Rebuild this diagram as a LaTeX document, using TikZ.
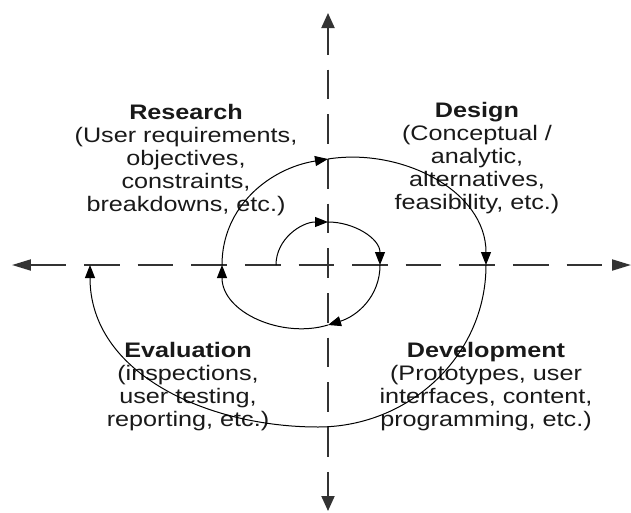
\documentclass[tikz,border=0pt]{standalone}
\usepackage{fontspec}
\setmainfont{Liberation Sans}[FakeStretch=1.2]
\usetikzlibrary{arrows.meta}

\begin{document}
\begin{tikzpicture}[x=1pt,y=1pt,>={Triangle[length=13pt,width=10pt]},
  axis/.style={draw=black!80,line width=2pt},
  loop/.style={->,line width=1pt},
  phase/.style={align=center,text=black!90,inner sep=0pt,anchor=north,
    font=\fontsize{21}{23}\selectfont}]

  \useasboundingbox (-328,-247) rectangle (303,265);

  \coordinate (west) at (-316,0);
  \coordinate (east) at (303,0);
  \coordinate (north) at (0,252);
  \coordinate (south) at (0,-246);

  % axes
  \draw[axis,dash pattern=on 35.6pt off 18pt,
    {Triangle[length=19pt,width=11pt]}-{Triangle[length=19pt,width=11pt]}] (west) -- (east);
  \draw[axis,dash pattern=on 29.7pt off 15pt,dash phase=2.7pt,
    {Triangle[length=15pt,width=13pt]}-{Triangle[length=15pt,width=13pt]}] (north) -- (south);

  % phases
  \node[phase] (research) at (-142,161) {\textbf{Research}\\(User requirements,\\objectives,\\constraints,\\breakdowns, etc.)};
  \node[phase] (design) at (149,163) {\textbf{Design}\\(Conceptual /\\analytic,\\alternatives,\\feasibility, etc.)};
  \node[phase] (evaluation) at (-140,-77) {\textbf{Evaluation}\\(inspections,\\user testing,\\reporting, etc.)};
  \node[phase] (development) at (158,-77) {\textbf{Development}\\(Prototypes, user\\interfaces, content,\\programming, etc.)};

  % spiral
  \coordinate (p0) at (-52,0);
  \coordinate (p1) at (0,43);
  \coordinate (p2) at (52,0);
  \coordinate (p3) at (0,-60);
  \coordinate (p4) at (-106,0);
  \coordinate (p5) at (0,106);
  \coordinate (p6) at (158,0);
  \coordinate (p7) at (-10,-162);
  \coordinate (p8) at (-238,0);

  \draw[loop] (p0) to[out=90,in=180] (p1);
  \draw[loop] (p1) to[out=0,in=90] (p2);
  \draw[loop] (p2) to[out=-90,in=17] (p3);
  \draw[loop] (p3) to[out=197,in=-90] (p4);
  \draw[loop] (p4) to[out=90,in=189] (p5);
  \draw[loop] (p5) to[out=9,in=90] (p6);
  \draw[loop] (p6) to[out=-90,in=0] (p7) to[out=180,in=-90] (p8);
\end{tikzpicture}
\end{document}
